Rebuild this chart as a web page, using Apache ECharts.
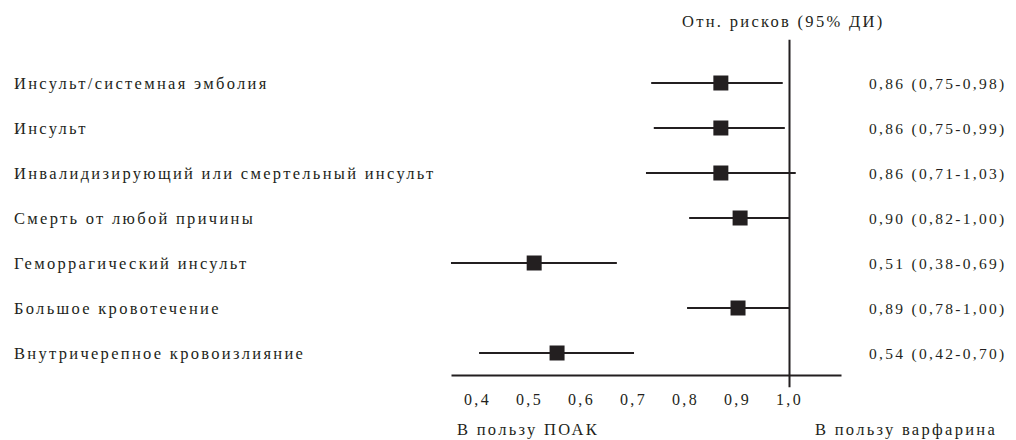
<!DOCTYPE html>
<html>
<head>
<meta charset="utf-8">
<script src="https://cdn.jsdelivr.net/npm/echarts@6/dist/echarts.min.js"></script>
<style>
html,body{margin:0;padding:0;background:#fff}
#c{width:1016px;height:440px}
#c svg text{font-family:'Liberation Serif','Times New Roman',serif !important;letter-spacing:2.3px}
</style>
</head>
<body>
<div id="c"></div>
<script>
var categories = [
  'Инсульт/системная эмболия',
  'Инсульт',
  'Инвалидизирующий или смертельный инсульт',
  'Смерть от любой причины',
  'Геморрагический инсульт',
  'Большое кровотечение',
  'Внутричерепное кровоизлияние'
];
var pointEst = [0.868, 0.868, 0.868, 0.905, 0.509, 0.901, 0.553];
var lowerCI  = [0.734, 0.739, 0.724, 0.807, 0.349, 0.803, 0.403];
var upperCI  = [0.987, 0.991, 1.012, 1.000, 0.668, 1.000, 0.701];
var ciLabels = [
  '0,86 (0,75-0,98)',
  '0,86 (0,75-0,99)',
  '0,86 (0,71-1,03)',
  '0,90 (0,82-1,00)',
  '0,51 (0,38-0,69)',
  '0,89 (0,78-1,00)',
  '0,54 (0,42-0,70)'
];
var tickValues = [0.4, 0.5, 0.6, 0.7, 0.8, 0.9, 1.0];
var axisRange = [0.35, 1.1];
var refValue = 1.0;
var headerText = 'Отн. рисков (95% ДИ)';
var favorLeft = 'В пользу ПОАК';
var favorRight = 'В пользу варфарина';

var INK = '#231f20';
var FONT = 'Liberation Serif';
var FS = 16.5;

var rows = categories.map(function (c, i) { return [pointEst[i], i, lowerCI[i], upperCI[i]]; });

var chart = echarts.init(document.getElementById('c'), null, {renderer: 'svg'});
chart.setOption({
  animation: false,
  backgroundColor: '#fff',
  textStyle: {fontFamily: FONT, color: INK},
  grid: {left: 425.5, right: 174.5, top: 60.5, bottom: 64.5, containLabel: false},
  xAxis: {
    type: 'value', min: 0.3, max: 1.1, interval: 0.1,
    axisLine: {show: false}, axisTick: {show: false}, splitLine: {show: false},
    axisLabel: {
      showMinLabel: false, showMaxLabel: false, margin: 16,
      fontFamily: FONT, fontSize: 16, color: INK,
      formatter: function (v) {
        var ok = tickValues.some(function (t) { return Math.abs(t - v) < 1e-6; });
        return ok ? v.toFixed(1).replace('.', ',') : '';
      }
    }
  },
  yAxis: [
    {type: 'value', inverse: true, min: -0.5, max: 6.5, show: false},
    {type: 'category', inverse: true, data: categories, position: 'left',
     axisLine: {show: false}, axisTick: {show: false}, splitLine: {show: false},
     axisLabel: {align: 'left', margin: 411.5, fontFamily: FONT, fontSize: FS, color: INK}},
    {type: 'category', inverse: true, data: ciLabels, position: 'right',
     axisLine: {show: false}, axisTick: {show: false}, splitLine: {show: false},
     axisLabel: {align: 'left', margin: 27.5, fontFamily: FONT, fontSize: 15.5, color: INK}}
  ],
  series: [
    {
      type: 'line', yAxisIndex: 0, clip: false, symbol: 'none', silent: true,
      data: [[axisRange[0], 6.5], [axisRange[1], 6.5]],
      lineStyle: {color: INK, width: 2}
    },
    {
      type: 'line', yAxisIndex: 0, clip: false, symbol: 'none', silent: true,
      data: [[refValue, -0.96], [refValue, 6.76]],
      lineStyle: {color: INK, width: 2}
    },
    {
      type: 'custom', yAxisIndex: 0, clip: false, silent: true,
      data: rows,
      encode: {x: 0, y: 1},
      renderItem: function (params, api) {
        var y = api.value(1);
        var p = api.coord([api.value(0), y]);
        var lo = api.coord([api.value(2), y]);
        var hi = api.coord([api.value(3), y]);
        var s = 15;
        return {
          type: 'group',
          children: [
            {type: 'line', shape: {x1: lo[0], y1: lo[1], x2: hi[0], y2: hi[1]},
             style: {stroke: INK, lineWidth: 2}},
            {type: 'rect', shape: {x: p[0] - s / 2, y: p[1] - s / 2, width: s, height: s},
             style: {fill: INK}}
          ]
        };
      }
    }
  ],
  graphic: [
    {type: 'text', left: 682, top: 13, style: {text: headerText, fontSize: FS, fontFamily: FONT, fill: INK}},
    {type: 'text', left: 457, top: 421, style: {text: favorLeft, fontSize: FS, fontFamily: FONT, fill: INK}},
    {type: 'text', left: 815, top: 421, style: {text: favorRight, fontSize: FS, fontFamily: FONT, fill: INK}}
  ]
});
</script>
</body>
</html>
